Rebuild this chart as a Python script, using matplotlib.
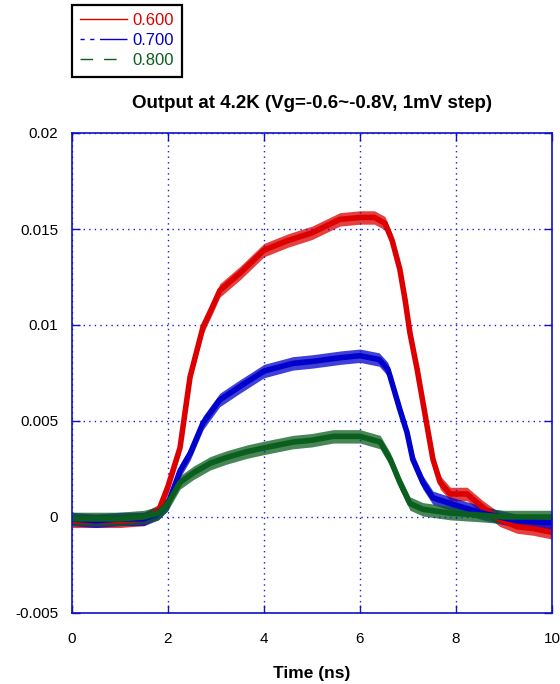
import matplotlib
matplotlib.use('Agg')
import matplotlib.pyplot as plt
from matplotlib.lines import Line2D

plt.rcParams['font.family'] = ['Liberation Sans', 'DejaVu Sans']

# gate bias labels and trace colours
labels = ['0.600', '0.700', '0.800']
colors = ['#dd0000', '#0000cc', '#0a5e1e']

# output traces at 4.2K (time in ns, output in V)
red_t = [0, 0.5, 1.0, 1.5, 1.8, 2.0, 2.25, 2.46, 2.73, 2.9, 3.08, 3.5, 4.0, 4.5, 5.0, 5.58,
         6.0, 6.3, 6.52, 6.67, 6.83, 6.94, 7.04, 7.15, 7.19, 7.4, 7.52, 7.67, 7.88, 8.23,
         8.56, 8.92, 9.27, 9.6, 10]
red_v = [-0.0002, -0.0002, -0.0002, -0.0001, 0.0003, 0.0016, 0.0036, 0.0073, 0.0099, 0.0108,
         0.0118, 0.0127, 0.0139, 0.0144, 0.0148, 0.0155, 0.0156, 0.0156, 0.0153, 0.0144,
         0.0129, 0.0113, 0.0096, 0.0082, 0.0077, 0.0047, 0.0030, 0.0018, 0.0012, 0.0012,
         0.0005, -0.00015, -0.0005, -0.0006, -0.0008]

blue_t = [0, 0.5, 1.0, 1.5, 1.8, 2.0, 2.25, 2.46, 2.73, 3.08, 3.5, 4.0, 4.6, 5.0, 5.6, 6.0,
          6.4, 6.58, 6.63, 6.83, 6.98, 7.1, 7.31, 7.52, 7.88, 8.56, 9.27, 10]
blue_v = [-0.0001, -0.0002, -0.0001, -0.0001, 0.0002, 0.0007, 0.0024, 0.0033, 0.0049, 0.0061,
          0.0068, 0.0076, 0.0080, 0.0081, 0.0083, 0.0084, 0.0082, 0.0077, 0.0073, 0.0056,
          0.0044, 0.0030, 0.0018, 0.0010, 0.0007, 0.0002, -0.0002, -0.0003]

green_t = [0, 0.5, 1.0, 1.5, 1.8, 2.0, 2.25, 2.53, 2.88, 3.22, 3.64, 4.0, 4.6, 5.0, 5.44, 6.0,
           6.42, 6.63, 6.83, 7.04, 7.31, 7.88, 8.5, 9.0, 10]
green_v = [-0.0001, -0.0001, -0.0001, 0.0, 0.0002, 0.0007, 0.0018, 0.0023, 0.0028, 0.0031,
           0.0034, 0.0036, 0.0039, 0.0040, 0.0042, 0.0042, 0.0039, 0.0030, 0.0018, 0.0007,
           0.0004, 0.0002, 0.0001, 0.0, 0.0]

series = [(red_t, red_v), (blue_t, blue_v), (green_t, green_v)]
noise = 0.00035  # half-width of the noise band

fig = plt.figure(figsize=(5.6, 6.84), dpi=100)
ax = fig.add_axes([72 / 560, 71 / 684, 480 / 560, 480 / 684])

for (t, v), c in zip(series, colors):
    lo = [y - noise for y in v]
    hi = [y + noise for y in v]
    ax.fill_between(t, lo, hi, color=c, lw=0, alpha=0.75)
    ax.plot(t, v, color=c, lw=4, solid_joinstyle='round')

ax.set_xlim(0, 10)
ax.set_ylim(-0.005, 0.02)
ax.set_xticks([0, 2, 4, 6, 8, 10])
ax.set_yticks([-0.005, 0, 0.005, 0.01, 0.015, 0.02])
ax.set_yticklabels(['-0.005', '0', '0.005', '0.01', '0.015', '0.02'])
ax.grid(True, color='#1a1add', linestyle=(0, (1, 3)), lw=1.0)

axcol = '#1010c8'
for s in ax.spines.values():
    s.set_color(axcol)
    s.set_linewidth(1.2)
ax.tick_params(direction='in', length=6, width=1, color=axcol, top=True, right=True,
               labelsize=11, labelcolor='black')
ax.tick_params(axis='x', pad=14)
ax.tick_params(axis='y', pad=10)

ax.set_title('Output at 4.2K (Vg=-0.6~-0.8V, 1mV step)', fontsize=13.5,
             fontweight='bold', pad=18)
ax.set_xlabel('Time (ns)', fontsize=12.5, fontweight='bold', labelpad=14)

handles = [
    Line2D([], [], color=colors[0], lw=1),
    Line2D([], [], color=colors[1], lw=1, dashes=(3, 4, 3, 4, 20, 2)),
    Line2D([], [], color=colors[2], lw=1, dashes=(9, 8)),
]
leg = fig.legend(handles, labels, loc='upper left', bbox_to_anchor=(72 / 560, 1 - 5 / 684),
                 borderaxespad=0, fancybox=False, framealpha=1, edgecolor='black',
                 fontsize=12, labelcolor='linecolor', handlelength=2.8,
                 handletextpad=0.3, labelspacing=0.3, borderpad=0.5)
leg.get_frame().set_linewidth(1.6)

fig.savefig('out.png', dpi=100)
